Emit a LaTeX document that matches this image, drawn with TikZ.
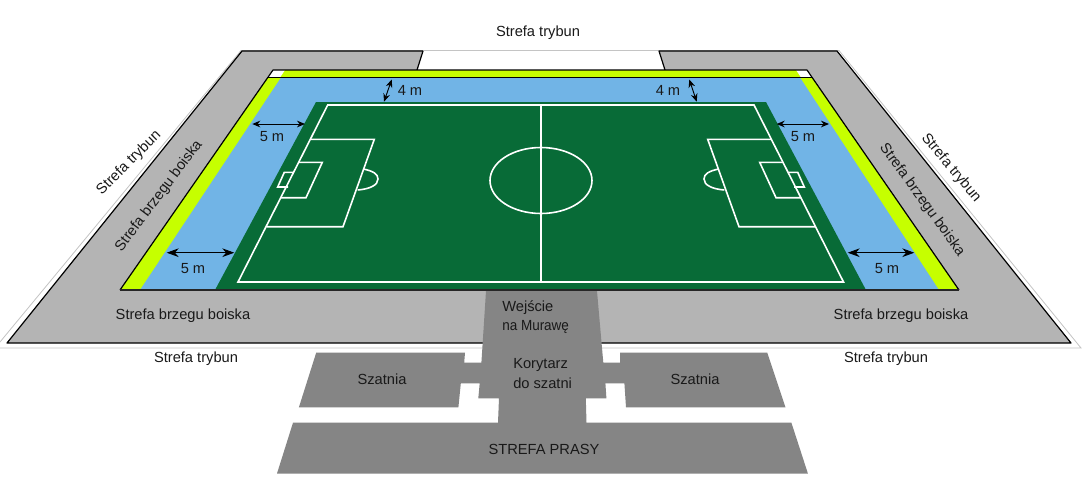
\documentclass[tikz,border=0pt]{standalone}
\usepackage{fontspec}
\setmainfont{Liberation Sans}
\usetikzlibrary{arrows.meta}
\definecolor{zonegray}{HTML}{B4B4B4}
\definecolor{darkzone}{HTML}{858585}
\definecolor{lime}{HTML}{C6FF00}
\definecolor{skyzone}{HTML}{71B4E6}
\definecolor{turf}{HTML}{086B37}
\definecolor{hairline}{HTML}{C4C4C4}
\tikzset{
  lbl/.style={inner sep=0pt,font=\fontsize{11}{13}\selectfont,text=black!90},
  edge/.style={black,line width=0.9pt,line join=round},
  hair/.style={hairline,line width=0.6pt},
  pitchline/.style={white,line width=1.2pt,line join=miter},
  dimsmall/.style={black,line width=0.7pt,{Stealth[length=6pt,width=5pt]}-{Stealth[length=6pt,width=5pt]}},
  dimbig/.style={black,line width=0.7pt,{Stealth[length=9pt,width=6.5pt]}-{Stealth[length=9pt,width=6.5pt]}}
}
\newcommand{\pitchend}{%
  \draw[pitchline] (311,139.3) -- (374.3,139.3) -- (343,226.7) -- (266.5,226.7);
  \draw[pitchline] (299,162.3) -- (322.3,162.3) -- (306,197.7) -- (281,197.7);
  \draw[pitchline] (293.5,172.3) -- (284.3,172.3) -- (277.7,187) -- (288,187);
  \draw[pitchline] (363.3,169) .. controls (373,171) and (378,174) .. (378,179) .. controls (378,185) and (370,189) .. (357.7,190);
}
\begin{document}
\begin{tikzpicture}[x=0.75pt,y=-0.75pt]
\useasboundingbox (0,0) rectangle (1083,490);
\fill[white] (0,0) rectangle (1083,490);
% thin outer outline
\draw[hair] (0,342) -- (241,50.5) -- (839,50.5) -- (1081,348) -- (0,348);
% stand zone
\fill[zonegray] (242,51) -- (837,51) -- (1071,343) -- (7,343) -- cycle;
\fill[white] (423,50) -- (659,50) -- (665,70) -- (417,70) -- cycle;
\draw[hair] (423,50.5) -- (659,50.5);
\draw[edge] (423,51) -- (242,51) -- (7,343) -- (1071,343) -- (837,51) -- (659,51) -- (665,70);
\draw[edge] (423,51) -- (417,70);
% field surround
\fill[lime] (273,70) -- (807,70) -- (959,290) -- (120,290) -- cycle;
\fill[white] (273,70) -- (285,70) -- (280,77.5) -- (267,77.5) -- cycle;
\fill[white] (796,70) -- (807,70) -- (813,77.5) -- (801,77.5) -- cycle;
\fill[skyzone] (281,77.5) -- (800,77.5) -- (939,290) -- (140,290) -- cycle;
\fill[turf] (316,102) -- (766,102) -- (866,290) -- (215,290) -- cycle;
\draw[edge] (120,290) -- (273,70) -- (807,70) -- (959,290);
\draw[edge] (267,77.5) -- (813,77.5);
\draw[black!85,line width=1.3pt] (120,290) -- (959,290);
% pitch markings
\draw[pitchline] (327.7,105) -- (754,105) -- (843.5,282) -- (238,282) -- cycle;
\draw[pitchline] (541,105) -- (541,282);
\draw[pitchline] (541,180.5) ellipse [x radius=51,y radius=33];
\pitchend
\begin{scope}[shift={(1082,0)},xscale=-1]
\pitchend
\end{scope}
% changing rooms, corridor, press zone
\fill[darkzone] (486,291) -- (597,291) -- (603.3,362.7) -- (620.2,362.7) -- (620.2,352.7)
  -- (767.3,352.7) -- (785.5,407.3) -- (626,407.3) -- (624.4,383.3) -- (605.4,383.3)
  -- (606.4,398.3) -- (585.8,398.3) -- (586.5,422.7) -- (791.4,422.7) -- (807.9,473.5)
  -- (277,473.5) -- (293,422.7) -- (498,422.7) -- (499,398.3) -- (478.3,398.3)
  -- (479.7,383.3) -- (460.8,383.3) -- (458.4,407.3) -- (298.9,407.3) -- (316.2,352.7)
  -- (465,352.7) -- (464.2,362.7) -- (481.4,362.7) -- cycle;
% dimension arrows
\coordinate (a1) at (391.7,79.5); \coordinate (a2) at (384,101.7);
\coordinate (b1) at (689.3,79.5); \coordinate (b2) at (696.7,101.7);
\coordinate (c1) at (252.3,124); \coordinate (c2) at (305,124);
\coordinate (d1) at (776.7,124); \coordinate (d2) at (829,124);
\coordinate (e1) at (166.7,252.7); \coordinate (e2) at (234.3,252.7);
\coordinate (f1) at (847.7,252.7); \coordinate (f2) at (914.3,252.7);
\draw[dimsmall] (a1) -- (a2);
\draw[dimsmall] (b1) -- (b2);
\draw[dimsmall] (c1) -- (c2);
\draw[dimsmall] (d1) -- (d2);
\draw[dimbig] (e1) -- (e2);
\draw[dimbig] (f1) -- (f2);
% labels
\node[lbl] (t1) at (538,33) {Strefa trybun};
\node[lbl] (t2) at (196,359) {Strefa trybun};
\node[lbl] (t3) at (886,359) {Strefa trybun};
\node[lbl,rotate=45] (t4) at (129,163) {Strefa trybun};
\node[lbl,rotate=-50] (t5) at (951,168) {Strefa trybun};
\node[lbl] (b1n) at (183,316) {Strefa brzegu boiska};
\node[lbl] (b2n) at (901,316) {Strefa brzegu boiska};
\node[lbl,rotate=53] (b3n) at (159,196) {Strefa brzegu boiska};
\node[lbl,rotate=-54] (b4n) at (922,200) {Strefa brzegu boiska};
\node[lbl] (m1) at (410,90) {4 m};
\node[lbl] (m2) at (668,90) {4 m};
\node[lbl] (m3) at (272,137) {5 m};
\node[lbl] (m4) at (803,137) {5 m};
\node[lbl] (m5) at (193,269) {5 m};
\node[lbl] (m6) at (887,269) {5 m};
\node[lbl,anchor=west] (w1) at (502,307.5) {Wejście};
\node[lbl,anchor=west] (w2) at (502,326.5) {\scalebox{0.92}[1]{na Murawę}};
\node[lbl,anchor=west] (k1) at (513,364.5) {Korytarz};
\node[lbl,anchor=west] (k2) at (513,383) {do szatni};
\node[lbl] (s1) at (382,379) {Szatnia};
\node[lbl] (s2) at (695,379) {Szatnia};
\node[lbl] (p1) at (544,449) {STREFA PRASY};
\end{tikzpicture}
\end{document}
